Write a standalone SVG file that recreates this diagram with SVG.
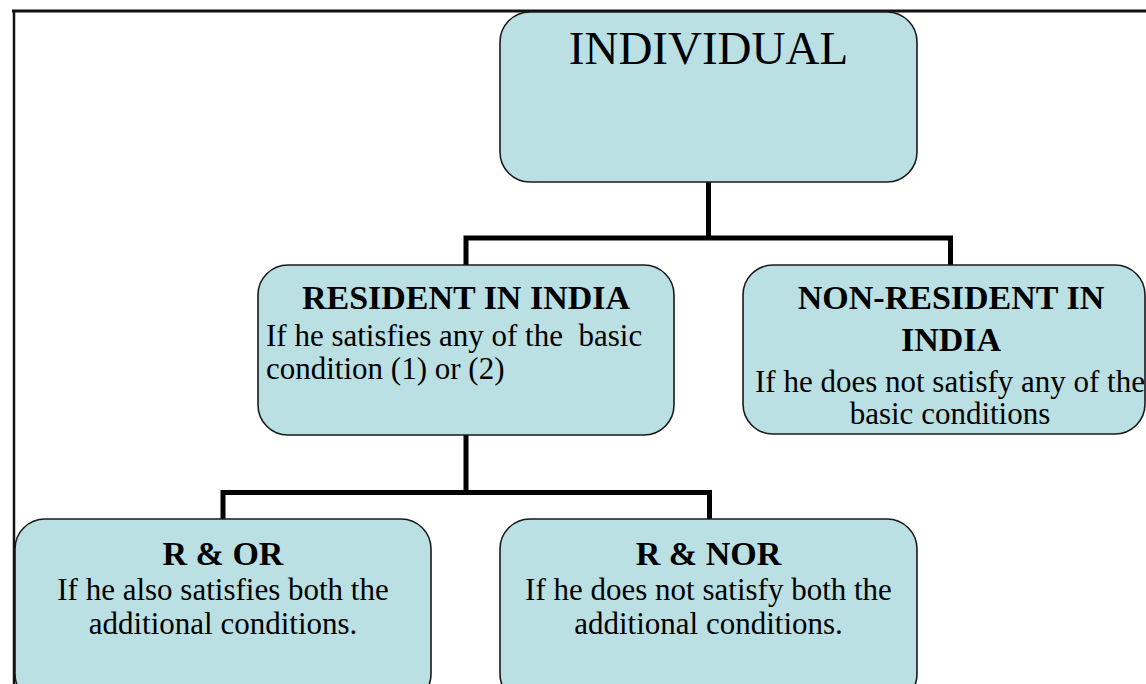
<svg xmlns="http://www.w3.org/2000/svg" width="1146" height="684" viewBox="0 0 1146 684">
  <style>
    .box { fill: #bbe0e3; stroke: #1a1a1a; stroke-width: 1.6; }
    .wire { fill: none; stroke: #000; stroke-width: 5; stroke-linecap: square; }
    .frame { fill: none; stroke: #111; }
    text { font-family: "Liberation Serif", "Times New Roman", serif; fill: #000; text-anchor: middle; }
    text.left { text-anchor: start; }
    .big { font-size: 47px; }
    .head { font-size: 34px; font-weight: bold; }
    .body { font-size: 31px; }
  </style>
  <rect width="1146" height="684" fill="#fff"/>

  <!-- page frame: top and left rules -->
  <g id="frame">
    <line class="frame" x1="12" y1="11" x2="1146" y2="11" stroke-width="3"/>
    <line class="frame" x1="14" y1="10" x2="14" y2="684" stroke-width="2.5"/>
  </g>

  <!-- tree connectors -->
  <g id="connectors">
    <path class="wire" d="M708.5 182 V238 M466 238 H950.5 M466 238 V264 M950.5 238 V264"/>
    <path class="wire" d="M466 436 V492.5 M223 492.5 H709.5 M223 492.5 V518 M709.5 492.5 V518"/>
  </g>

  <g id="individual">
    <rect class="box" x="500" y="12" width="417" height="170" rx="30"/>
    <text class="big" x="708.5" y="64">INDIVIDUAL</text>
  </g>

  <g id="resident">
    <rect class="box" x="258" y="265" width="416" height="170" rx="30"/>
    <text class="head" x="466" y="309">RESIDENT IN INDIA</text>
    <text class="body left" x="266" y="346" xml:space="preserve">If he satisfies any of the  basic</text>
    <text class="body left" x="266" y="379">condition (1) or (2)</text>
  </g>

  <g id="non-resident">
    <rect class="box" x="743" y="265" width="402" height="169" rx="30"/>
    <text class="head" x="951" y="309">NON-RESIDENT IN</text>
    <text class="head" x="951" y="351">INDIA</text>
    <text class="body" x="950" y="392">If he does not satisfy any of the</text>
    <text class="body" x="950" y="424">basic conditions</text>
  </g>

  <g id="r-or">
    <rect class="box" x="15" y="519" width="416" height="185" rx="30"/>
    <text class="head" x="223" y="565">R &amp; OR</text>
    <text class="body" x="223" y="600">If he also satisfies both the</text>
    <text class="body" x="223" y="634">additional conditions.</text>
  </g>

  <g id="r-nor">
    <rect class="box" x="500" y="519" width="417" height="185" rx="30"/>
    <text class="head" x="708.5" y="565">R &amp; NOR</text>
    <text class="body" x="708.5" y="600">If he does not satisfy both the</text>
    <text class="body" x="708.5" y="634">additional conditions.</text>
  </g>
</svg>
